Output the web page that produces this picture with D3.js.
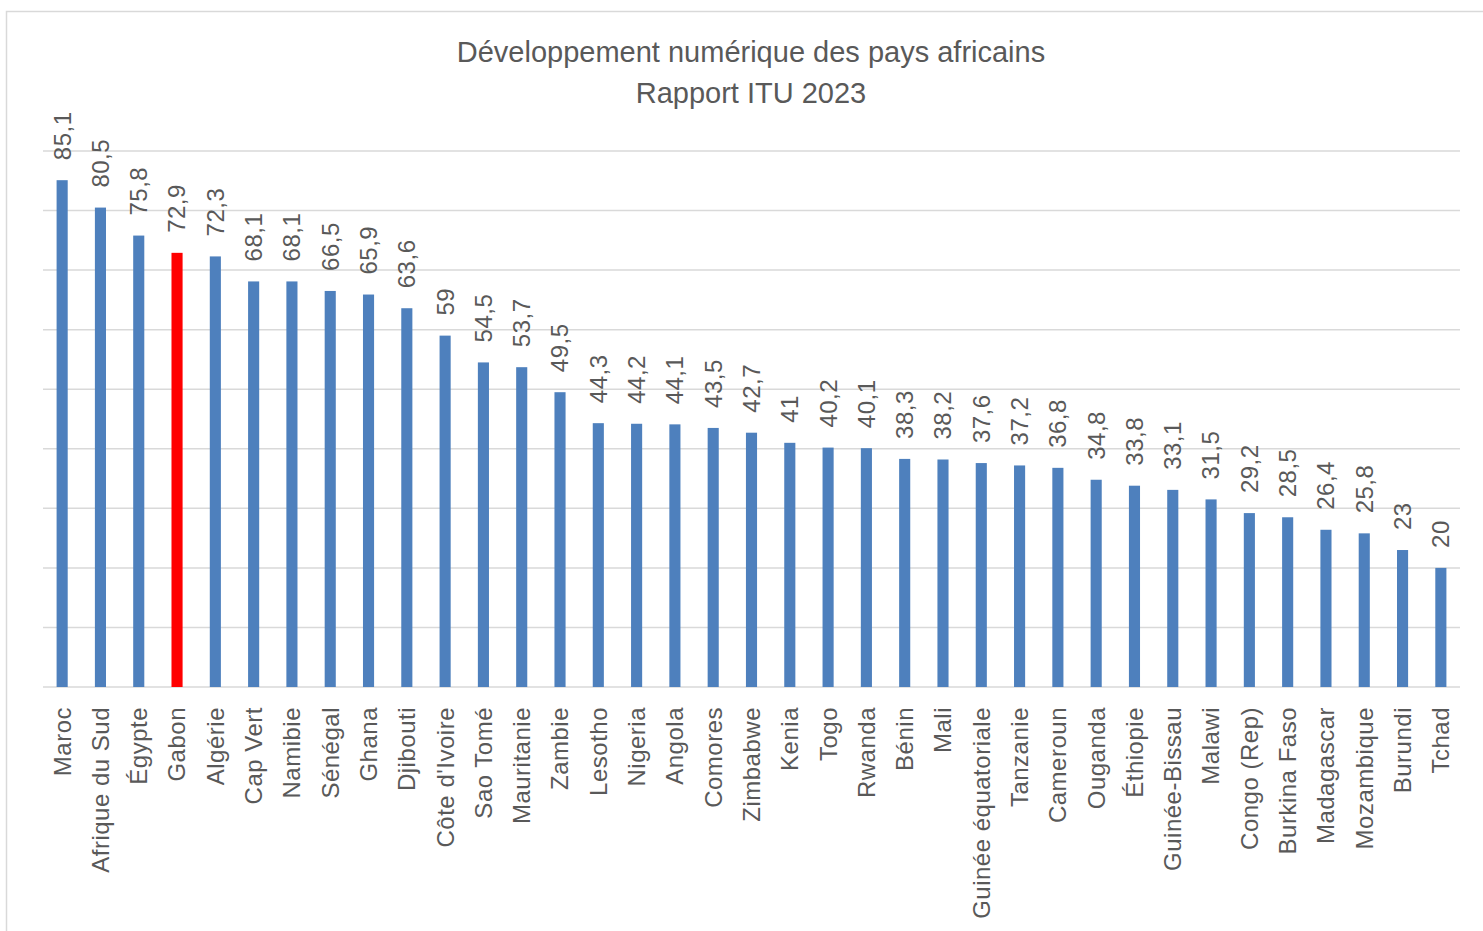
<!DOCTYPE html>
<html>
<head>
<meta charset="utf-8">
<script src="https://cdn.jsdelivr.net/npm/d3@7"></script>
<style>
  body { margin: 0; background: #fff; }
  svg text { font-family: "Liberation Sans", Arial, sans-serif; fill: #595959; }
</style>
</head>
<body>
<svg id="chart"></svg>
<script>
const countries = ["Maroc", "Afrique du Sud", "Égypte", "Gabon", "Algérie", "Cap Vert", "Namibie",
  "Sénégal", "Ghana", "Djibouti", "Côte d'Ivoire", "Sao Tomé", "Mauritanie", "Zambie", "Lesotho",
  "Nigeria", "Angola", "Comores", "Zimbabwe", "Kenia", "Togo", "Rwanda", "Bénin", "Mali",
  "Guinée équatoriale", "Tanzanie", "Cameroun", "Ouganda", "Éthiopie", "Guinée-Bissau", "Malawi",
  "Congo (Rep)", "Burkina Faso", "Madagascar", "Mozambique", "Burundi", "Tchad"];
const scores = [85.1, 80.5, 75.8, 72.9, 72.3, 68.1, 68.1, 66.5, 65.9, 63.6, 59, 54.5, 53.7, 49.5,
  44.3, 44.2, 44.1, 43.5, 42.7, 41, 40.2, 40.1, 38.3, 38.2, 37.6, 37.2, 36.8, 34.8, 33.8, 33.1,
  31.5, 29.2, 28.5, 26.4, 25.8, 23, 20];
const highlighted = ["Gabon"];
const gridTicks = [0, 10, 20, 30, 40, 50, 60, 70, 80, 90];
const titleLines = ["Développement numérique des pays africains", "Rapport ITU 2023"];

const W = 1483, H = 931;
const margin = { top: 151, right: 23, bottom: 244, left: 43 };
const width = W - margin.left - margin.right,
      height = H - margin.top - margin.bottom;

const svgEl = d3.select("#chart").attr("width", W).attr("height", H);

// chart frame
svgEl.append("rect")
  .attr("x", 6.5).attr("y", 11.5)
  .attr("width", W + 10).attr("height", H + 10)
  .attr("fill", "none").attr("stroke", "#d9d9d9").attr("stroke-width", 1.5);

svgEl.append("text")
  .attr("x", 751).attr("y", 52)
  .attr("text-anchor", "middle")
  .attr("font-size", 29)
  .selectAll("tspan")
  .data(titleLines)
  .enter().append("tspan")
  .attr("x", 751)
  .attr("dy", (d, i) => i === 0 ? "0.35em" : "1.42em")
  .text(d => d);

const svg = svgEl.append("g")
  .attr("transform", `translate(${margin.left},${margin.top})`);

const x = d3.scaleBand()
  .domain(countries)
  .range([0, width])
  .paddingInner(0.71)
  .paddingOuter(0.355);
const y = d3.scaleLinear()
  .domain([0, 90])
  .range([height, 0]);

// gridlines
svg.selectAll(".grid")
  .data(gridTicks)
  .enter().append("line")
  .attr("class", "grid")
  .attr("x1", 0).attr("x2", width)
  .attr("y1", d => y(d)).attr("y2", d => y(d))
  .attr("stroke", "#d9d9d9")
  .attr("stroke-width", 1.5);

const data = countries.map((c, i) => ({ country: c, value: scores[i] }));

// bars
svg.selectAll(".bar")
  .data(data)
  .enter().append("rect")
  .attr("class", "bar")
  .attr("x", d => x(d.country))
  .attr("y", d => y(d.value))
  .attr("width", x.bandwidth())
  .attr("height", d => height - y(d.value))
  .attr("fill", d => highlighted.includes(d.country) ? "#ff0000" : "#4e80bd");

// value labels
svg.selectAll(".val")
  .data(data)
  .enter().append("text")
  .attr("class", "val")
  .attr("transform", d => `translate(${x(d.country) + x.bandwidth() / 2},${y(d.value) - 20}) rotate(-90)`)
  .attr("dy", "0.35em")
  .attr("font-size", 24)
  .attr("letter-spacing", 0.5)
  .text(d => String(d.value).replace(".", ","));

// category axis labels
svg.selectAll(".cat")
  .data(countries)
  .enter().append("text")
  .attr("class", "cat")
  .attr("transform", d => `translate(${x(d) + x.bandwidth() / 2},${height + 20}) rotate(-90)`)
  .attr("text-anchor", "end")
  .attr("dy", "0.35em")
  .attr("font-size", 24)
  .attr("letter-spacing", 0.5)
  .text(d => d);
</script>
</body>
</html>
